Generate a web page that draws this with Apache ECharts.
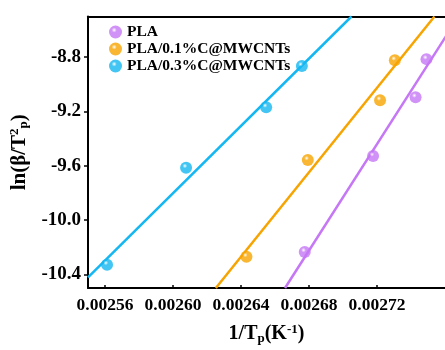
<!DOCTYPE html>
<html>
<head>
<meta charset="utf-8">
<script src="https://cdn.jsdelivr.net/npm/echarts@6/dist/echarts.min.js"></script>
<style>
  html, body { margin: 0; padding: 0; background: #fff; }
  #main { width: 445px; height: 350px; }
</style>
</head>
<body>
<div id="main"></div>
<script>
// series names
var names = ['PLA', 'PLA/0.1%C@MWCNTs', 'PLA/0.3%C@MWCNTs'];
var colors = ['#c577f5', '#f7a400', '#14b7f1'];

// measured points [1/Tp, ln(beta/Tp^2)]
var plaPts = [[0.0026775, -10.234], [0.0027177, -9.528], [0.0027427, -9.095], [0.0027491, -8.814]];
var pla1Pts = [[0.0026432, -10.270], [0.0026793, -9.557], [0.0027218, -9.117], [0.0027305, -8.822]];
var pla3Pts = [[0.0025612, -10.328], [0.0026077, -9.614], [0.0026548, -9.168], [0.0026758, -8.865]];

// fitted lines (end points)
var plaFit = [[0.0026659, -10.5], [0.002768, -8.5]];
var pla1Fit = [[0.0026252, -10.5], [0.0027538, -8.5]];
var pla3Fit = [[0.00255, -10.422], [0.002705, -8.5]];

// tick labels
var xTicks = [0.00256, 0.00260, 0.00264, 0.00268, 0.00272];
var yTicks = [-10.4, -10.0, -9.6, -9.2, -8.8];

var font = 'Liberation Serif';

function ball(c) {
  return {
    type: 'radial', x: 0.4, y: 0.35, r: 0.65,
    colorStops: [
      { offset: 0, color: '#ffffff' },
      { offset: 0.3, color: c },
      { offset: 1, color: c }
    ]
  };
}

function scatter(name, data, c) {
  return {
    name: name, type: 'scatter', data: data,
    symbolSize: 12,
    itemStyle: { color: ball(c) },
    z: 3
  };
}
function fit(data, c) {
  return {
    type: 'line', data: data, symbol: 'none', clip: true,
    lineStyle: { color: c, width: 2.5 },
    silent: true, z: 2
  };
}

var rich = {
  s: { fontFamily: font, fontWeight: 'bold', fontSize: 13, verticalAlign: 'bottom', padding: [9, 0, 0, 0] },
  u: { fontFamily: font, fontWeight: 'bold', fontSize: 13, verticalAlign: 'top', padding: [0, 0, 7, 0] }
};

var myChart = echarts.init(document.getElementById('main'));
var option = {
  animation: false,
  grid: { left: 88, top: 16.5, width: 361, height: 277.5, show: false },
  legend: {
    left: 104, top: 19, orient: 'vertical', itemGap: 1,
    itemWidth: 13, itemHeight: 13,
    data: names.map(function (n, i) { return { name: n, icon: 'circle', itemStyle: { color: ball(colors[i]) } }; }),
    textStyle: { fontFamily: font, fontWeight: 'bold', fontSize: 15.5, color: '#000' }
  },
  xAxis: [{
    type: 'value', min: 0.00255, max: 0.00276,
    name: '1/T{s|p}(K{u|-1})',
    nameLocation: 'middle', nameGap: 35,
    nameTextStyle: { fontFamily: font, fontWeight: 'bold', fontSize: 20, color: '#000', rich: rich },
    axisLine: { lineStyle: { color: '#000', width: 2 } },
    axisTick: { inside: true, length: 3, customValues: xTicks, lineStyle: { color: '#000', width: 1.5 } },
    axisLabel: {
      customValues: xTicks, margin: 8,
      fontFamily: font, fontWeight: 'bold', fontSize: 17.5, color: '#000',
      formatter: function (v) { return v.toFixed(5); }
    },
    splitLine: { show: false }
  }, {
    type: 'value', position: 'top', min: 0.00255, max: 0.00276,
    axisLine: { show: true, lineStyle: { color: '#000', width: 2 } },
    axisTick: { show: false }, axisLabel: { show: false }, splitLine: { show: false }
  }],
  yAxis: {
    type: 'value', min: -10.5, max: -8.5,
    name: 'ln(β/T{u|2}{s|p})',
    nameLocation: 'middle', nameGap: 53,
    nameTextStyle: { fontFamily: font, fontWeight: 'bold', fontSize: 21, color: '#000', rich: rich },
    axisLine: { lineStyle: { color: '#000', width: 2 } },
    axisTick: { inside: false, length: 4, customValues: yTicks, lineStyle: { color: '#000', width: 1.5 } },
    axisLabel: {
      customValues: yTicks, margin: 7,
      fontFamily: font, fontWeight: 'bold', fontSize: 19, color: '#000',
      formatter: function (v) { return v.toFixed(1); }
    },
    splitLine: { show: false }
  },
  series: [
    fit(plaFit, colors[0]),
    fit(pla1Fit, colors[1]),
    fit(pla3Fit, colors[2]),
    scatter(names[0], plaPts, colors[0]),
    scatter(names[1], pla1Pts, colors[1]),
    scatter(names[2], pla3Pts, colors[2])
  ]
};
myChart.setOption(option);
</script>
</body>
</html>
